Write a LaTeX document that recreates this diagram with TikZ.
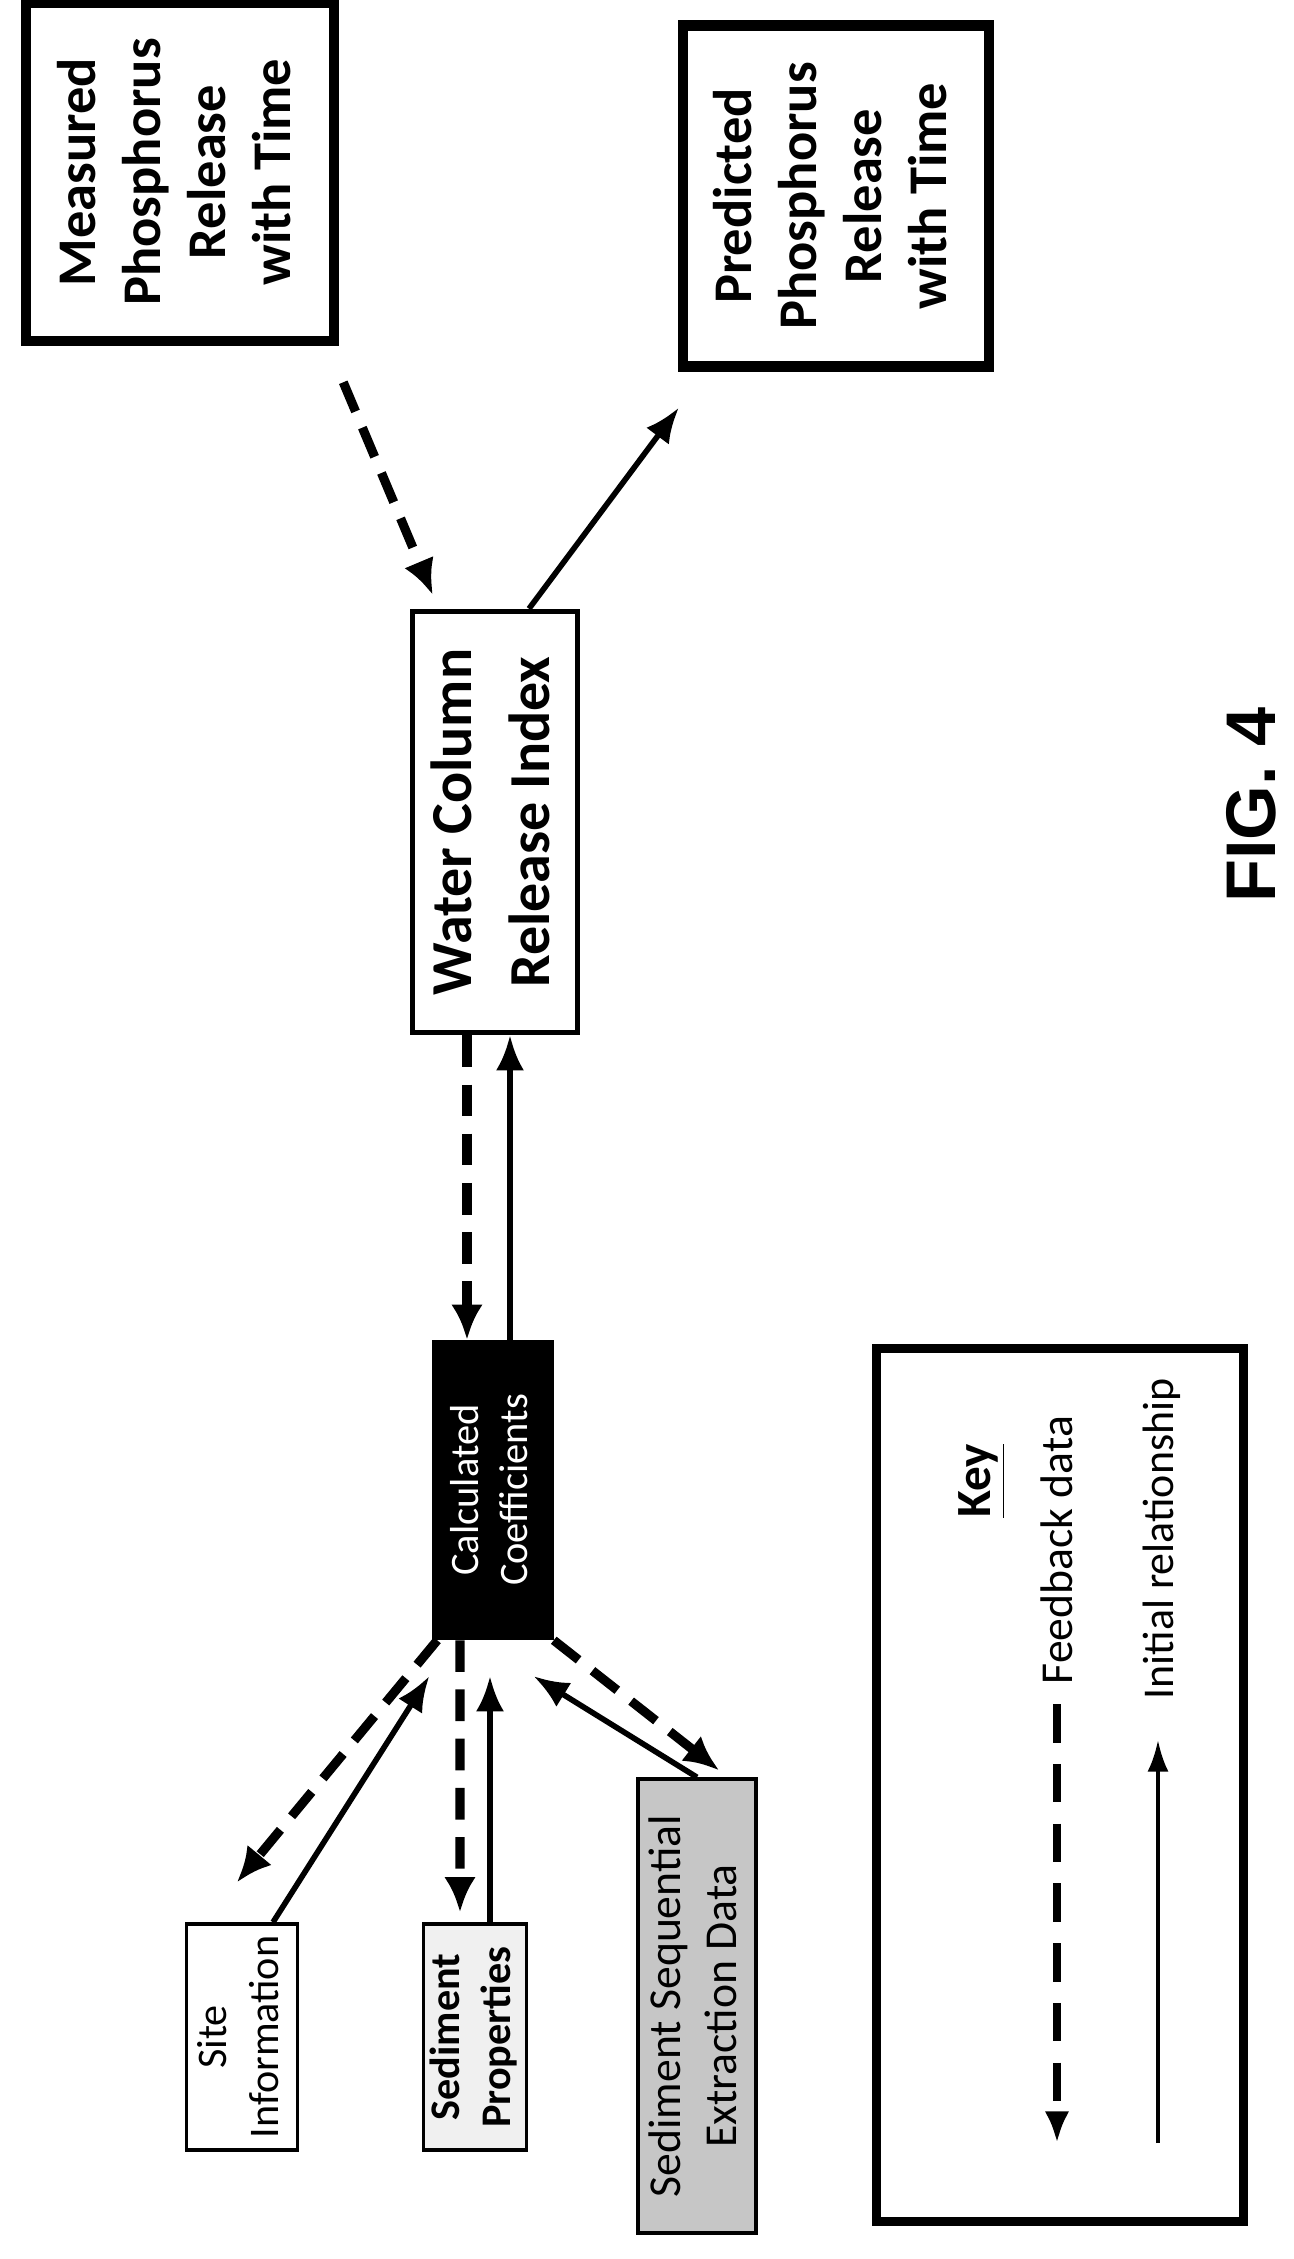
\documentclass[tikz,border=0pt]{standalone}
\usepackage{fontspec}
\setmainfont{Carlito}
\newfontfamily\figfont{Liberation Sans}
\usetikzlibrary{arrows.meta, calc, patterns}

\newcommand{\vtext}[1]{\rotatebox{90}{\begin{tabular}{@{}c@{}}#1\end{tabular}}}

\begin{document}
\begin{tikzpicture}[
    bigbox/.style={rectangle, draw, line width=3pt, inner sep=0pt, font=\bfseries\fontsize{15.5}{18.5}\selectfont},
    midbox/.style={rectangle, draw, line width=1.6pt, inner sep=0pt, font=\bfseries\fontsize{16.5}{22}\selectfont},
    smallbox/.style={rectangle, draw, line width=1pt, inner sep=0pt},
    feedback/.style={-{Latex[length=10pt,width=9pt]}, line width=2.6pt, dash pattern=on 9pt off 5pt},
    initial/.style={-{Latex[length=10pt,width=8pt]}, line width=1.6pt}
  ]
    \useasboundingbox (0,0) rectangle (12.94,-22.59);

    % top row
    \node[bigbox, minimum width=3.08cm, minimum height=3.38cm] (measured) at (1.80,-1.72)
        {\vtext{Measured\\Phosphorus\\Release\\with Time}};
    \node[bigbox, minimum width=3.06cm, minimum height=3.41cm] (predicted) at (8.36,-1.96)
        {\vtext{Predicted\\Phosphorus\\Release\\with Time}};

    \node[midbox, minimum width=1.65cm, minimum height=4.21cm] (wcri) at (4.95,-8.22)
        {\vtext{Water Column\\Release Index}};

    \node[smallbox, fill=black, text=white, minimum width=1.18cm, minimum height=2.97cm,
          font=\fontsize{11.5}{14}\selectfont] (coeff) at (4.93,-14.9)
        {\vtext{Calculated\\Coefficients}};

    % inputs
    \node[smallbox, minimum width=1.11cm, minimum height=2.26cm,
          font=\fontsize{12}{15}\selectfont] (site) at (2.42,-20.37)
        {\vtext{Site\\Information}};
    \node[smallbox, fill=gray!12, minimum width=1.03cm, minimum height=2.26cm,
          font=\bfseries\fontsize{12}{14.5}\selectfont] (sedprop) at (4.75,-20.37)
        {\vtext{Sediment\\Properties}};
    \node[smallbox, fill=gray!45, minimum width=1.18cm, minimum height=4.54cm,
          font=\fontsize{13}{16}\selectfont] (sedseq) at (6.97,-20.06)
        {\vtext{Sediment Sequential\\Extraction Data}};

    % connectors
    \draw[feedback] ([xshift=0.04cm,yshift=-0.36cm]measured.south east) -- ([xshift=0.23cm,yshift=0.14cm]wcri.north west);
    \draw[initial] ([xshift=0.34cm]wcri.north) -- ([xshift=0.01cm,yshift=-0.36cm]predicted.south west);

    \draw[feedback] ([xshift=-0.28cm]wcri.south) -- ([xshift=-0.26cm]coeff.north);
    \draw[initial] ([xshift=0.17cm]coeff.north) -- ([xshift=0.15cm]wcri.south);

    \draw[feedback] ([xshift=0.05cm]coeff.south west) -- ([xshift=-0.05cm,yshift=0.4cm]site.north);
    \draw[initial] ([xshift=0.31cm]site.north) -- ([xshift=-0.03cm,yshift=-0.36cm]coeff.south west);

    \draw[feedback] ([xshift=-0.33cm]coeff.south) -- ([xshift=-0.15cm,yshift=0.1cm]sedprop.north);
    \draw[initial] ([xshift=0.15cm]sedprop.north) -- ([xshift=-0.03cm,yshift=-0.36cm]coeff.south);

    \draw[initial] (sedseq.north) -- ([xshift=-0.2cm,yshift=-0.36cm]coeff.south east);
    \draw[feedback] (coeff.south east) -- ([xshift=0.22cm,yshift=0.07cm]sedseq.north);

    % key
    \node[rectangle, draw, line width=2.4pt, minimum width=3.67cm, minimum height=8.73cm] (key) at (10.6,-17.85) {};
    \node[font=\bfseries\fontsize{14}{16}\selectfont, rotate=90] (keytitle) at (9.82,-14.81) {\underline{Key}};
    \node[font=\fontsize{13}{15}\selectfont, rotate=90] (keyfb) at (10.57,-15.5) {Feedback data};
    \node[font=\fontsize{12.5}{15}\selectfont, rotate=90] (keyinit) at (11.62,-15.39) {Initial relationship};
    \coordinate (fbtop) at (10.57,-17.04);
    \coordinate (fbbot) at (10.57,-21.43);
    \coordinate (intop) at (11.58,-17.4);
    \coordinate (inbot) at (11.58,-21.43);
    \draw[-{Latex[length=9pt,width=7pt]}, line width=2pt, dash pattern=on 11pt off 6pt] (fbtop) -- (fbbot);
    \draw[-{Latex[length=9pt,width=6pt]}, line width=1.2pt] (inbot) -- (intop);

    \node[font=\figfont\bfseries\fontsize{20}{22}\selectfont, rotate=90] (fig) at (12.51,-8.05) {FIG. 4};
\end{tikzpicture}
\end{document}
